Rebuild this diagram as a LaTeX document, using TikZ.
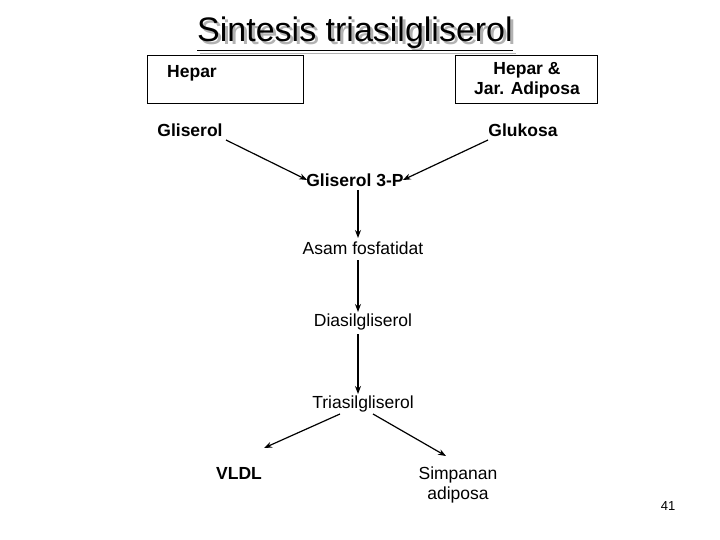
\documentclass[tikz,border=0pt]{standalone}
\usepackage{fontspec}
\setmainfont{Liberation Sans}
\usetikzlibrary{arrows.meta}
\begin{document}
\begin{tikzpicture}[x=1pt,y=-1pt,
  lbl/.style={inner sep=1pt,font=\fontsize{17.5}{20}\selectfont\bfseries,align=center},
  lbn/.style={inner sep=1pt,font=\fontsize{17.5}{20}\selectfont,align=center},
  box/.style={draw,line width=0.8pt},
  arr/.style={line width=1.2pt,-{Stealth[length=8pt,width=6pt]}}]
\useasboundingbox (0,0) rectangle (720,540);
\node[text=gray!60,font=\fontsize{34}{38}\selectfont] (tsh) at (358,37) {\underline{Sintesis triasilgliserol}};
\node[font=\fontsize{34}{38}\selectfont] (title) at (355,34) {\underline{Sintesis triasilgliserol}};
\draw[box] (147,55) rectangle (303,103);
\draw[box] (455,55) rectangle (597,103);
\node[lbl] (hep) at (192,73) {Hepar};
\node[lbl] (hja) at (527,80) {Hepar \&\\Jar. Adiposa};
\node[lbl] (gli) at (190,130) {Gliserol};
\node[lbl] (glu) at (523,130) {Glukosa};
\node[lbl] (g3p) at (355,180) {Gliserol 3-P};
\node[lbn] (asam) at (363,248) {Asam fosfatidat};
\node[lbn] (dia) at (363,322) {Diasilgliserol};
\node[lbn] (tri) at (363,404) {Triasilgliserol};
\node[lbl] (vldl) at (239,473) {VLDL};
\node[lbn] (simp) at (458,485) {Simpanan\\adiposa};
\node[font=\fontsize{13}{15}\selectfont] (num) at (668,506) {41};
\draw[arr] (226,140) -- ([xshift=2pt]g3p.west);
\draw[arr] (488,140) -- ([xshift=-2pt]g3p.east);
\draw[arr] (358,190) -- (358,238);
\draw[arr] (358,260) -- (358,312);
\draw[arr] (358,334) -- (358,394);
\draw[arr] (340,414) -- (264,448);
\draw[arr] (373,414) -- (446,456);
\end{tikzpicture}
\end{document}
